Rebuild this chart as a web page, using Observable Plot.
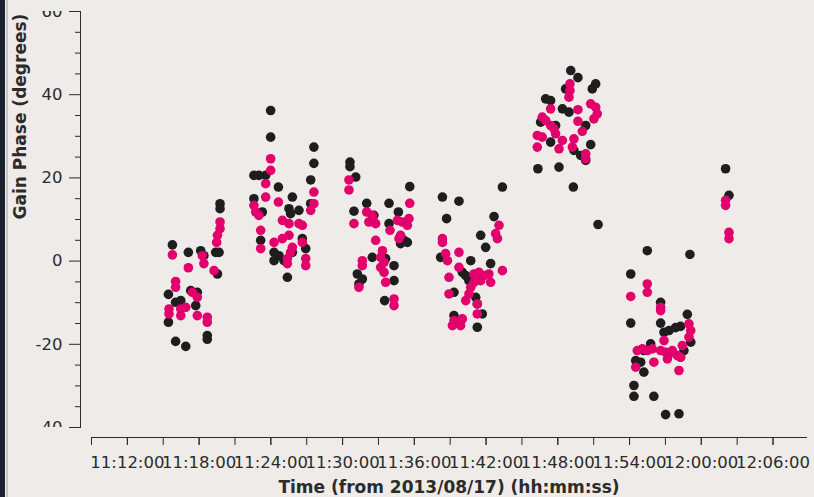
<!DOCTYPE html>
<html>
<head>
<meta charset="utf-8">
<script src="https://cdn.jsdelivr.net/npm/d3@7"></script>
<script src="https://cdn.jsdelivr.net/npm/@observablehq/plot@0.6"></script>
<style>
  html, body { margin: 0; padding: 0; }
  body {
    width: 814px; height: 497px; overflow: hidden;
    background: linear-gradient(to right, #1b2230 0 5px, #eeebe8 5px 6px, #c6c6c6 6px 7.5px, #eeebe8 7.5px);
  }
  svg { display: block; }
</style>
</head>
<body>
<div id="chart"></div>
<script>
// Gain phase per scan, two correlations, [time (hh:mm:ss), phase in degrees]
const seriesDark = [
  ["11:15:46",3.9],["11:17:06",2.1],["11:18:08",2.5],["11:18:24",1.3],["11:19:23",2.1],["11:19:40",2.1],
  ["11:19:45",13.8],["11:19:45",12.6],["11:19:32",-3.1],["11:15:26",-8.0],["11:16:02",-9.9],["11:16:28",-9.5],
  ["11:17:18",-7.1],["11:17:51",-7.5],["11:17:43",-10.7],["11:15:26",-14.7],["11:16:02",-19.3],["11:16:53",-20.5],
  ["11:18:41",-17.9],["11:18:41",-18.8],
  ["11:23:59",36.2],["11:23:59",29.8],["11:27:36",27.4],["11:27:36",23.5],["11:22:35",20.6],["11:23:00",20.6],
  ["11:23:34",20.6],["11:27:20",19.5],["11:24:38",17.8],["11:25:48",15.4],["11:22:35",15.0],["11:23:17",11.8],
  ["11:25:31",12.6],["11:25:39",11.4],["11:26:21",12.2],["11:27:20",13.8],["11:23:09",5.0],["11:24:16",2.1],
  ["11:24:16",0.1],["11:24:41",1.3],["11:25:06",0.1],["11:26:38",5.4],["11:26:55",3.0],["11:25:23",-3.9],
  ["11:25:48",2.1],
  ["11:30:37",23.8],["11:30:37",22.7],["11:31:06",20.2],["11:35:37",17.9],["11:32:01",13.9],["11:33:53",13.9],
  ["11:30:57",12.0],["11:34:40",11.8],["11:32:37",11.0],["11:33:53",9.0],["11:35:08",5.0],["11:35:25",4.5],
  ["11:34:51",4.2],["11:32:29",0.9],["11:33:36",0.6],["11:34:18",-1.1],["11:31:14",-3.1],["11:31:39",-4.3],
  ["11:31:22",-5.5],["11:34:18",-4.7],["11:33:31",-9.5],
  ["11:38:21",15.4],["11:39:44",14.4],["11:43:22",17.8],["11:38:42",10.2],["11:42:40",10.7],["11:41:33",6.2],
  ["11:41:58",3.3],["11:38:12",0.9],["11:40:43",0.1],["11:40:01",-2.7],["11:40:18",-3.5],["11:40:34",-4.7],
  ["11:42:23",-0.6],["11:39:19",-7.5],["11:41:08",-8.7],["11:41:16",-10.3],["11:41:41",-12.7],["11:39:19",-13.1],
  ["11:41:16",-15.9],
  ["11:49:05",45.8],["11:49:41",44.1],["11:50:53",41.4],["11:51:10",42.6],["11:46:59",39.0],["11:47:24",38.6],
  ["11:48:23",36.6],["11:48:56",35.8],["11:50:20",32.6],["11:46:34",33.4],["11:47:49",32.6],["11:47:24",28.6],
  ["11:50:45",28.0],["11:49:21",26.6],["11:49:55",25.4],["11:50:20",24.2],["11:46:20",22.2],["11:48:06",22.6],
  ["11:49:18",17.8],["11:51:22",8.8],["11:48:39",41.4],
  ["11:55:29",2.5],["11:59:03",1.6],["11:54:06",-3.1],["11:56:36",-9.9],["11:58:50",-12.8],["11:54:06",-14.9],
  ["11:56:36",-14.9],["11:57:18",-16.7],["11:57:51",-16.0],["11:58:16",-15.7],["11:55:46",-19.9],["11:55:12",-21.5],
  ["11:59:07",-19.5],["11:54:31",-23.9],["11:54:56",-24.3],["11:55:12",-26.7],["11:54:22",-29.9],["11:54:22",-32.5],
  ["11:56:02",-32.5],["11:57:01",-36.9],["11:58:08",-36.7],["11:58:16",-23.1],["11:58:33",-21.5],["11:56:53",-17.1],
  ["12:02:02",22.2],["12:02:19",15.8]
];

const seriesPink = [
  ["11:15:46",1.5],["11:17:06",-1.6],["11:18:16",1.3],["11:18:24",-0.6],["11:19:15",-2.3],["11:19:45",9.4],
  ["11:19:45",7.8],["11:19:32",6.2],["11:19:28",4.5],["11:16:02",-4.9],["11:16:02",-6.3],["11:17:26",-7.5],
  ["11:17:51",-8.7],["11:15:29",-11.5],["11:15:29",-12.7],["11:16:28",-11.5],["11:16:53",-11.1],["11:16:28",-13.1],
  ["11:17:51",-13.1],["11:18:41",-13.5],["11:18:41",-14.7],
  ["11:23:59",24.6],["11:23:59",21.8],["11:23:34",18.6],["11:23:34",15.4],["11:24:38",14.2],["11:22:35",13.4],
  ["11:22:44",11.8],["11:23:00",11.0],["11:27:36",16.6],["11:27:36",13.8],["11:27:20",12.2],["11:24:58",9.8],
  ["11:25:31",9.0],["11:26:21",9.0],["11:26:38",8.6],["11:23:09",7.4],["11:24:16",4.5],["11:24:58",5.4],
  ["11:25:31",6.2],["11:25:48",3.3],["11:25:39",2.1],["11:23:09",3.0],["11:26:38",4.5],["11:25:23",0.6],
  ["11:25:23",-0.6],["11:26:55",0.6],["11:26:55",-1.1],
  ["11:30:32",19.5],["11:30:32",17.1],["11:35:37",13.9],["11:32:01",11.8],["11:32:29",11.0],["11:32:12",9.4],
  ["11:32:46",9.0],["11:32:29",10.2],["11:30:57",9.0],["11:34:35",9.8],["11:35:00",9.4],["11:35:33",10.2],
  ["11:35:25",8.6],["11:33:58",7.4],["11:34:51",6.2],["11:34:43",5.4],["11:32:46",5.0],["11:33:20",2.5],
  ["11:33:11",0.9],["11:33:28",-0.3],["11:33:11",-1.5],["11:31:39",0.1],["11:31:39",-1.1],["11:33:28",-2.7],
  ["11:33:36",-5.1],["11:31:22",-6.3],["11:34:18",-9.1],["11:34:18",-10.7],
  ["11:38:21",5.4],["11:38:21",4.5],["11:43:05",8.6],["11:42:48",6.6],["11:42:57",5.4],["11:38:37",1.8],
  ["11:38:46",0.1],["11:39:44",2.1],["11:39:44",-1.5],["11:43:22",-2.3],["11:38:54",-3.9],["11:40:59",-3.1],
  ["11:41:24",-2.7],["11:41:49",-3.5],["11:42:14",-3.1],["11:42:23",-5.1],["11:40:59",-5.1],["11:41:33",-4.7],
  ["11:40:43",-6.3],["11:40:34",-7.9],["11:38:54",-7.9],["11:40:18",-9.5],["11:41:16",-10.3],["11:41:16",-12.7],
  ["11:39:19",-14.3],["11:39:52",-15.5],["11:39:11",-15.5],["11:40:01",-13.9],
  ["11:49:01",42.6],["11:49:01",41.0],["11:48:56",39.4],["11:47:24",36.6],["11:49:41",36.4],["11:50:45",37.8],
  ["11:51:10",37.0],["11:51:18",35.4],["11:51:01",34.2],["11:46:42",34.6],["11:46:59",33.8],["11:47:24",32.6],
  ["11:49:41",33.6],["11:47:49",30.6],["11:47:41",31.8],["11:50:03",31.2],["11:46:17",30.2],["11:46:42",29.8],
  ["11:46:17",27.4],["11:48:23",29.0],["11:48:06",27.0],["11:49:21",29.4],["11:49:13",27.4],["11:50:20",25.8],
  ["11:50:20",24.6],
  ["11:54:06",-8.5],["11:55:29",-5.5],["11:55:29",-7.5],["11:56:36",-11.1],["11:56:36",-11.9],["11:58:58",-15.1],
  ["11:59:07",-16.7],["11:58:58",-18.3],["11:58:25",-20.3],["11:56:53",-19.1],["11:54:39",-21.5],["11:55:04",-21.1],
  ["11:55:29",-21.5],["11:55:54",-21.1],["11:56:36",-21.5],["11:57:01",-21.9],["11:57:18",-22.3],["11:57:35",-21.5],
  ["11:58:00",-22.7],["11:58:16",-23.1],["11:56:02",-24.3],["11:57:10",-23.5],["11:54:31",-25.5],["11:58:08",-26.3],
  ["12:02:02",14.6],["12:02:02",13.4],["12:02:19",6.9],["12:02:19",5.4]
];

// Axis ticks
const yMajorTicks = [-40, -20, 0, 20, 40, 60];
const yMinorTicks = [-35, -30, -25, -15, -10, -5, 5, 10, 15, 25, 30, 35, 45, 50, 55];
const xTickTimes = ["11:09:00","11:12:00","11:15:00","11:18:00","11:21:00","11:24:00","11:27:00","11:30:00",
  "11:33:00","11:36:00","11:39:00","11:42:00","11:45:00","11:48:00","11:51:00","11:54:00","11:57:00",
  "12:00:00","12:03:00","12:06:00"];
const xLabelTimes = ["11:12:00","11:18:00","11:24:00","11:30:00","11:36:00","11:42:00","11:48:00",
  "11:54:00","12:00:00","12:06:00"];
const xDomain = ["11:09:00", "12:08:48"];
const yDomain = [-40, 60];

const xTitle = "Time (from 2013/08/17) (hh:mm:ss)";
const yTitle = "Gain Phase (degrees)";

const day = [2013, 7, 17];
const toDate = (s) => {
  const [h, m, sec] = s.split(":").map(Number);
  return new Date(Date.UTC(day[0], day[1], day[2], h, m, sec));
};
const toRows = (series) => series.map(([t, v]) => ({time: toDate(t), phase: v}));

const ink = "#2b2b2b";
const fontFamily = "'DejaVu Sans', sans-serif";
const tickFontSize = "16.5px";
const width = 814, height = 497;
const marginTop = 11, marginBottom = 70, marginLeft = 91, marginRight = 8;
const axisOffsetX = -11, axisOffsetY = 10;
const yTickFormat = d => d < 0 ? "-" + Math.abs(d) : String(d);

const chart = Plot.plot({
  width, height, marginTop, marginBottom, marginLeft, marginRight,
  style: {background: "transparent", fontFamily, fontSize: tickFontSize, color: ink},
  x: {type: "utc", domain: xDomain.map(toDate)},
  y: {domain: yDomain},
  marks: [
    // detached axis lines
    Plot.frame({anchor: "left", dx: axisOffsetX, stroke: ink}),
    Plot.frame({anchor: "bottom", dy: axisOffsetY, stroke: ink}),
    // y axis
    Plot.axisY(yMinorTicks, {anchor: "left", tickSize: 5, dx: axisOffsetX, text: null, label: null, stroke: ink}),
    Plot.axisY(yMajorTicks, {anchor: "left", tickSize: 11, tickPadding: 7, dx: axisOffsetX, label: null,
      stroke: ink, fill: ink, tickFormat: yTickFormat}),
    // x axis
    Plot.axisX(xTickTimes.map(toDate), {anchor: "bottom", tickSize: 8, dy: axisOffsetY, text: null, label: null, stroke: ink}),
    Plot.axisX(xLabelTimes.map(toDate), {anchor: "bottom", tickSize: 8, tickPadding: 11, dy: axisOffsetY, label: null,
      fill: ink, stroke: ink, tickFormat: d3.utcFormat("%H:%M:%S")}),
    // points
    Plot.dot(toRows(seriesDark), {x: "time", y: "phase", r: 4.8, fill: "#1e1e1e", stroke: "none"}),
    Plot.dot(toRows(seriesPink), {x: "time", y: "phase", r: 4.8, fill: "#e2006c", stroke: "none"}),
    // axis titles
    Plot.text([xTitle], {text: d => d, frameAnchor: "bottom", dy: 60, lineAnchor: "middle",
      fontWeight: "bold", fontSize: 17, fill: ink}),
    Plot.text([yTitle], {text: d => d, frameAnchor: "left", dx: -71, rotate: -90, lineAnchor: "middle",
      fontWeight: "bold", fontSize: 17, fill: ink})
  ]
});

// Tick labels at the ends of the y range are cut at the plot area edges:
// clip each y tick label against the vertical extent of the plot area.
document.getElementById("chart").appendChild(chart);
const ns = "http://www.w3.org/2000/svg";
const defs = document.createElementNS(ns, "defs");
const clip = document.createElementNS(ns, "clipPath");
clip.setAttribute("id", "ylabel-clip");
clip.setAttribute("clipPathUnits", "userSpaceOnUse");
const rect = document.createElementNS(ns, "rect");
rect.setAttribute("x", 0);
rect.setAttribute("y", marginTop);
rect.setAttribute("width", marginLeft);
rect.setAttribute("height", height - marginTop - marginBottom);
clip.appendChild(rect);
defs.appendChild(clip);
chart.insertBefore(defs, chart.firstChild);

const tickTexts = new Set(yMajorTicks.map(yTickFormat));
const wrapper = document.createElementNS(ns, "g");
wrapper.setAttribute("clip-path", "url(#ylabel-clip)");
chart.appendChild(wrapper);
for (const t of Array.from(chart.querySelectorAll("text"))) {
  const box = t.getBBox();
  const ctm = t.getCTM();
  if (!tickTexts.has(t.textContent) || !ctm || ctm.e + box.x > marginLeft) continue;
  // move the label into the clipped group, keeping its position and look
  const cs = getComputedStyle(t);
  const holder = document.createElementNS(ns, "g");
  holder.setAttribute("transform", `matrix(${ctm.a},${ctm.b},${ctm.c},${ctm.d},${ctm.e},${ctm.f})`);
  const copy = t.cloneNode(true);
  copy.removeAttribute("transform");
  copy.setAttribute("font-family", cs.fontFamily);
  copy.setAttribute("font-size", cs.fontSize);
  copy.setAttribute("fill", ink);
  copy.setAttribute("text-anchor", cs.textAnchor || "end");
  holder.appendChild(copy);
  wrapper.appendChild(holder);
  t.remove();
}
</script>
</body>
</html>
